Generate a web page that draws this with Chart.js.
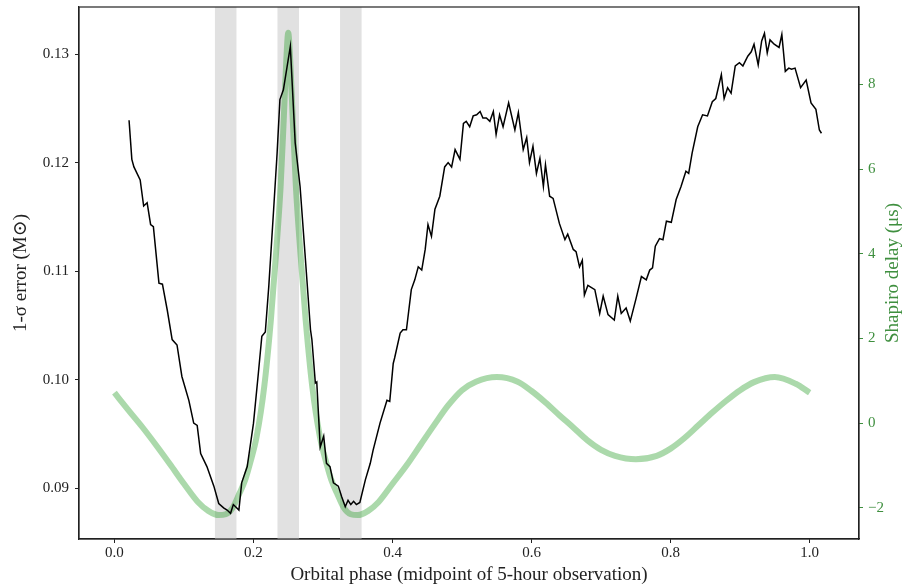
<!DOCTYPE html>
<html>
<head>
<meta charset="utf-8">
<script src="https://cdn.jsdelivr.net/npm/chart.js@4.4.0/dist/chart.umd.min.js"></script>
<style>
  body { margin: 0; background: #fff; }
  #chart { display: block; }
</style>
</head>
<body>
<canvas id="chart" width="910" height="586"></canvas>
<script>
// 1-sigma error on the mass vs orbital phase (black, left axis)
const errPhase = [
  0.021, 0.025, 0.028, 0.037, 0.042, 0.047, 0.052, 0.056, 0.064, 0.069,
  0.076, 0.083, 0.090, 0.097, 0.107, 0.114, 0.119, 0.124, 0.133, 0.143,
  0.150, 0.157, 0.162, 0.167, 0.171, 0.179, 0.183, 0.191, 0.200, 0.207,
  0.212, 0.217, 0.222, 0.229, 0.234, 0.238, 0.243, 0.253, 0.260, 0.267,
  0.274, 0.282, 0.284, 0.289, 0.291, 0.296, 0.301, 0.305, 0.310, 0.315,
  0.322, 0.327, 0.332, 0.336, 0.340, 0.344, 0.348, 0.353, 0.361, 0.368,
  0.372, 0.382, 0.392, 0.396, 0.401, 0.403, 0.411, 0.415, 0.420, 0.427,
  0.432, 0.437, 0.442, 0.447, 0.451, 0.456, 0.461, 0.468, 0.475, 0.480,
  0.485, 0.490, 0.497, 0.502, 0.506, 0.511, 0.516, 0.521, 0.526, 0.530,
  0.535, 0.540, 0.545, 0.549, 0.554, 0.559, 0.567, 0.576, 0.581, 0.588,
  0.593, 0.597, 0.602, 0.607, 0.612, 0.617, 0.620, 0.626, 0.631, 0.640,
  0.648, 0.652, 0.660, 0.664, 0.669, 0.673, 0.676, 0.681, 0.691, 0.698,
  0.703, 0.710, 0.719, 0.724, 0.729, 0.736, 0.742, 0.750, 0.758, 0.765,
  0.770, 0.774, 0.778, 0.784, 0.789, 0.794, 0.801, 0.808, 0.815, 0.822,
  0.826, 0.831, 0.839, 0.846, 0.853, 0.860, 0.865, 0.873, 0.877, 0.882,
  0.887, 0.893, 0.899, 0.904, 0.911, 0.916, 0.920, 0.926, 0.931, 0.935,
  0.939, 0.943, 0.949, 0.956, 0.960, 0.965, 0.970, 0.974, 0.979, 0.987,
  0.995, 1.002, 1.009, 1.014, 1.017
];
const errSigma = [
  0.1239, 0.1203, 0.1196, 0.1184, 0.1160, 0.1163, 0.1143, 0.1141, 0.1089, 0.1088,
  0.1064, 0.1037, 0.1032, 0.1003, 0.0981, 0.0960, 0.0958, 0.0932, 0.0920, 0.0902,
  0.0886, 0.0882, 0.0880, 0.0877, 0.0885, 0.0880, 0.0905, 0.0920, 0.0960, 0.1006,
  0.1040, 0.1044, 0.1086, 0.1157, 0.1209, 0.1258, 0.1267, 0.1307, 0.1218, 0.1178,
  0.1117, 0.1046, 0.1037, 0.0997, 0.0998, 0.0938, 0.0948, 0.0923, 0.0920, 0.0905,
  0.0902, 0.0892, 0.0883, 0.0889, 0.0885, 0.0888, 0.0885, 0.0887, 0.0908, 0.0923,
  0.0935, 0.0960, 0.0981, 0.0980, 0.1015, 0.1020, 0.1043, 0.1046, 0.1046, 0.1083,
  0.1092, 0.1104, 0.1101, 0.1120, 0.1143, 0.1132, 0.1157, 0.1169, 0.1196, 0.1200,
  0.1196, 0.1212, 0.1203, 0.1236, 0.1238, 0.1233, 0.1243, 0.1244, 0.1247, 0.1241,
  0.1241, 0.1238, 0.1247, 0.1226, 0.1244, 0.1233, 0.1255, 0.1230, 0.1246, 0.1212,
  0.1223, 0.1200, 0.1215, 0.1190, 0.1204, 0.1178, 0.1198, 0.1169, 0.1167, 0.1144,
  0.1129, 0.1134, 0.1120, 0.1118, 0.1104, 0.1110, 0.1078, 0.1087, 0.1083, 0.1061,
  0.1077, 0.1060, 0.1055, 0.1077, 0.1061, 0.1066, 0.1054, 0.1074, 0.1095, 0.1092,
  0.1101, 0.1103, 0.1123, 0.1130, 0.1129, 0.1146, 0.1145, 0.1166, 0.1178, 0.1192,
  0.1190, 0.1209, 0.1233, 0.1244, 0.1243, 0.1256, 0.1259, 0.1281, 0.1259, 0.1269,
  0.1264, 0.1289, 0.1292, 0.1289, 0.1298, 0.1302, 0.1309, 0.1290, 0.1312, 0.1319,
  0.1301, 0.1313, 0.1309, 0.1306, 0.1318, 0.1284, 0.1287, 0.1286, 0.1287, 0.1269,
  0.1276, 0.1255, 0.1249, 0.1230, 0.1227
];

// Shapiro delay curve (green, right axis)
const delayPhase = [
  0.000, 0.020, 0.040, 0.060, 0.080, 0.100, 0.120, 0.135, 0.150, 0.160,
  0.170, 0.180, 0.188, 0.195, 0.2045, 0.2155, 0.225, 0.2325, 0.239, 0.2435,
  0.247, 0.250, 0.253, 0.2565, 0.261, 0.2675, 0.275, 0.2845, 0.2955, 0.305,
  0.312, 0.320, 0.330, 0.340, 0.350, 0.365, 0.380, 0.400, 0.420, 0.440,
  0.460, 0.480, 0.500, 0.520, 0.550, 0.580, 0.600, 0.620, 0.640, 0.660,
  0.680, 0.700, 0.720, 0.750, 0.780, 0.800, 0.820, 0.840, 0.860, 0.880,
  0.900, 0.920, 0.950, 0.980, 1.000
];
const delayUs = [
  0.72, 0.31, -0.09, -0.52, -0.97, -1.43, -1.86, -2.07, -2.17, -2.15,
  -2.00, -1.65, -1.34, -0.95, -0.32, 0.87, 2.44, 4.02, 5.59, 7.17,
  8.50, 9.22, 8.50, 7.17, 5.59, 4.02, 2.44, 0.87, -0.32, -0.95,
  -1.34, -1.65, -2.00, -2.15, -2.17, -2.07, -1.86, -1.43, -1.00, -0.52,
  -0.04, 0.42, 0.78, 0.98, 1.09, 0.98, 0.76, 0.49, 0.19, -0.10,
  -0.40, -0.63, -0.77, -0.85, -0.77, -0.60, -0.35, -0.05, 0.25, 0.53,
  0.78, 0.97, 1.09, 0.93, 0.72
];

// observation windows (grey spans)
const bandStart = [0.1445, 0.2345, 0.3245];
const bandEnd = [0.1755, 0.2655, 0.3555];

// ticks
const xTicks = [0.0, 0.2, 0.4, 0.6, 0.8, 1.0];
const errTicks = [0.09, 0.10, 0.11, 0.12, 0.13];
const delayTicks = [-2, 0, 2, 4, 6, 8];

const serif = "'Liberation Serif', 'DejaVu Serif', serif";
const green = '#3f8f3f';

const bandsPlugin = {
  id: 'bands',
  beforeDatasetsDraw(chart) {
    const { ctx, chartArea, scales } = chart;
    ctx.save();
    ctx.fillStyle = '#e1e1e1';
    bandStart.forEach((s, i) => {
      const x1 = scales.x.getPixelForValue(s);
      const x2 = scales.x.getPixelForValue(bandEnd[i]);
      ctx.fillRect(x1, chartArea.top, x2 - x1, chartArea.bottom - chartArea.top);
    });
    ctx.restore();
  }
};

const framePlugin = {
  id: 'frame',
  afterDraw(chart) {
    const { ctx, chartArea } = chart;
    ctx.save();
    ctx.strokeStyle = '#222';
    ctx.lineWidth = 1.2;
    ctx.strokeRect(chartArea.left, chartArea.top, chartArea.right - chartArea.left, chartArea.bottom - chartArea.top);
    // right axis label, reads bottom to top like the original
    ctx.translate(893, (chartArea.top + chartArea.bottom) / 2);
    ctx.rotate(-Math.PI / 2);
    ctx.fillStyle = green;
    ctx.font = '19px ' + serif;
    ctx.textAlign = 'center';
    ctx.textBaseline = 'middle';
    ctx.fillText('Shapiro delay (μs)', 0, 0);
    ctx.restore();
  }
};

function noPad(scale) {
  scale.paddingTop = 0;
  scale.paddingBottom = 0;
  scale.paddingLeft = 0;
  scale.paddingRight = 0;
}

new Chart(document.getElementById('chart'), {
  type: 'line',
  data: {
    datasets: [
      {
        label: 'error',
        data: errPhase.map((p, i) => ({ x: p, y: errSigma[i] })),
        borderColor: '#000',
        borderWidth: 1.5,
        pointRadius: 0,
        tension: 0,
        yAxisID: 'y',
        order: 0
      },
      {
        label: 'shapiro',
        data: delayPhase.map((p, i) => ({ x: p, y: delayUs[i] })),
        borderColor: 'rgba(44,160,44,0.4)',
        borderWidth: 6,
        borderJoinStyle: 'round',
        pointRadius: 0,
        cubicInterpolationMode: 'monotone',
        yAxisID: 'y2',
        order: 1
      }
    ]
  },
  options: {
    responsive: false,
    animation: false,
    devicePixelRatio: 1,
    layout: { padding: { top: 7, left: 0, right: 0, bottom: 0 } },
    plugins: { legend: { display: false }, tooltip: { enabled: false } },
    scales: {
      x: {
        type: 'linear',
        min: -0.051,
        max: 1.071,
        afterBuildTicks: (scale) => { scale.ticks = xTicks.map(v => ({ value: v })); },
        afterFit: (scale) => { scale.height = 47; noPad(scale); },
        ticks: {
          color: '#222',
          font: { family: serif, size: 15 },
          padding: 1,
          callback: (v) => v.toFixed(1)
        },
        grid: { drawOnChartArea: false, drawTicks: true, tickLength: 4, color: '#222' },
        border: { display: true, color: '#222', width: 1.2 },
        title: {
          display: true,
          text: 'Orbital phase (midpoint of 5-hour observation)',
          color: '#222',
          font: { family: serif, size: 19, lineHeight: 1.2 },
          padding: { top: 0, bottom: 0 }
        }
      },
      y: {
        position: 'left',
        min: 0.08533,
        max: 0.13433,
        afterBuildTicks: (scale) => { scale.ticks = errTicks.map(v => ({ value: v })); },
        afterFit: (scale) => { scale.width = 79; noPad(scale); },
        ticks: {
          color: '#222',
          font: { family: serif, size: 15 },
          padding: 6,
          callback: (v) => v.toFixed(2)
        },
        grid: { drawOnChartArea: false, drawTicks: true, tickLength: 4, color: '#222' },
        border: { display: true, color: '#222', width: 1.2 },
        title: {
          display: true,
          text: '1-σ error (M⊙)',
          color: '#222',
          font: { family: serif, size: 19, lineHeight: 1.2 },
          padding: { top: 10, bottom: 0 }
        }
      },
      y2: {
        position: 'right',
        min: -2.735,
        max: 9.83,
        afterBuildTicks: (scale) => { scale.ticks = delayTicks.map(v => ({ value: v })); },
        afterFit: (scale) => { scale.width = 51; noPad(scale); },
        ticks: {
          color: green,
          font: { family: serif, size: 15 },
          padding: 5,
          callback: (v) => (v < 0 ? '\u2212' + Math.abs(v) : String(v))
        },
        grid: { drawOnChartArea: false, drawTicks: true, tickLength: 4, color: green },
        border: { display: true, color: '#222', width: 1.2 }
      }
    }
  },
  plugins: [bandsPlugin, framePlugin]
});
</script>
</body>
</html>
